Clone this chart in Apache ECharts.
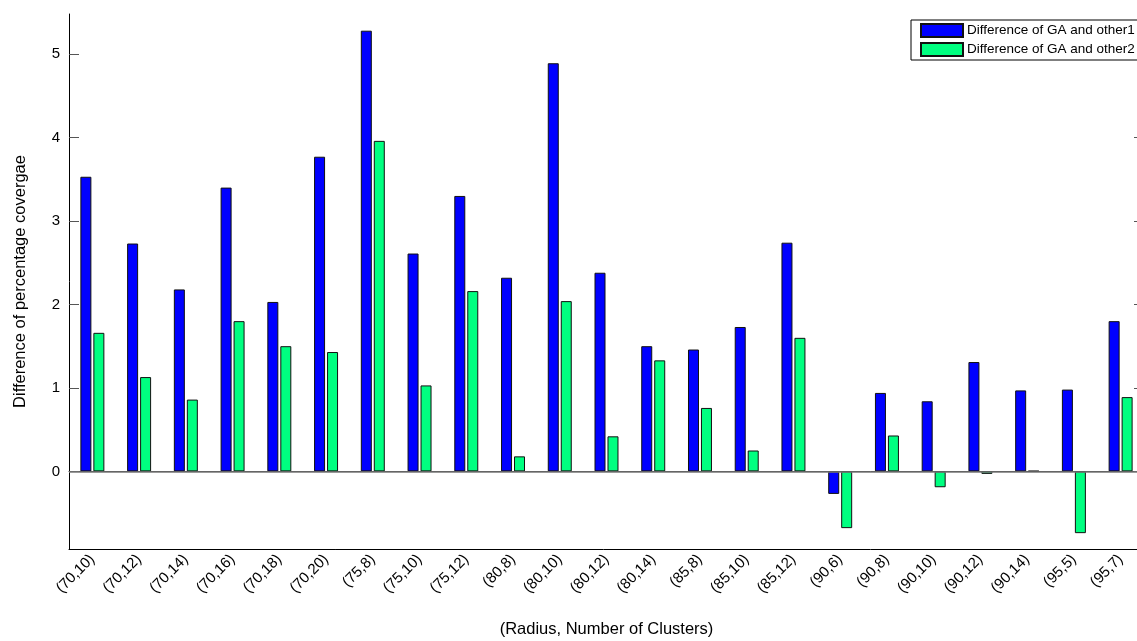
<!DOCTYPE html>
<html>
<head>
<meta charset="utf-8">
<script src="https://cdn.jsdelivr.net/npm/echarts@6/dist/echarts.min.js"></script>
<style>
  html, body { margin: 0; padding: 0; background: #fff; }
  #chart { width: 1137px; height: 641px; }
</style>
</head>
<body>
<div id="chart"></div>
<script>
var categories = ['(70,10)', '(70,12)', '(70,14)', '(70,16)', '(70,18)', '(70,20)', '(75,8)', '(75,10)',
  '(75,12)', '(80,8)', '(80,10)', '(80,12)', '(80,14)', '(85,8)', '(85,10)', '(85,12)', '(90,6)',
  '(90,8)', '(90,10)', '(90,12)', '(90,14)', '(95,5)', '(95,7)'];
var other1 = [3.53, 2.73, 2.18, 3.40, 2.03, 3.77, 5.28, 2.61, 3.30, 2.32, 4.89, 2.38, 1.50, 1.46,
  1.73, 2.74, -0.27, 0.94, 0.84, 1.31, 0.97, 0.98, 1.80];
var other2 = [1.66, 1.13, 0.86, 1.80, 1.50, 1.43, 3.96, 1.03, 2.16, 0.18, 2.04, 0.42, 1.33, 0.76,
  0.25, 1.60, -0.68, 0.43, -0.19, -0.03, 0.005, -0.74, 0.89];
var y_ticks = [0, 1, 2, 3, 4, 5];
var series_names = ['Difference of GA and other1', 'Difference of GA and other2'];
var bar_colors = ['#0000ff', '#00ff80'];

var font = "'Liberation Sans', Arial, sans-serif";
var chart_div = echarts.init(document.getElementById('chart'));

var option = {
  animation: false,
  textStyle: { fontFamily: font },
  grid: { left: 69, top: 14, width: 1075, height: 535, containLabel: false, outerBoundsMode: 'none' },
  legend: {
    orient: 'vertical',
    left: 911,
    top: 20,
    padding: [3, 8, 3, 9],
    itemGap: 4,
    itemWidth: 42,
    itemHeight: 13,
    icon: 'rect',
    backgroundColor: '#fff',
    borderColor: '#000',
    borderWidth: 1,
    textStyle: { fontSize: 13.5, color: '#000', fontFamily: font, padding: [0, 0, 0, -1] },
    data: series_names
  },
  xAxis: [
    {
      type: 'category',
      data: categories,
      boundaryGap: true,
      name: '(Radius, Number of Clusters)',
      nameLocation: 'middle',
      nameGap: 72,
      nameMoveOverlap: false,
      nameTextStyle: { fontSize: 16.5, color: '#000', verticalAlign: 'top' },
      axisLine: { onZero: false, lineStyle: { color: '#000', width: 1 } },
      axisTick: { alignWithLabel: true, inside: true, length: 10, lineStyle: { color: '#555' } },
      axisLabel: { rotate: 45, fontSize: 15, color: '#000', margin: 8, interval: 0 },
      splitLine: { show: false }
    },
    {
      type: 'category',
      data: categories,
      position: 'top',
      boundaryGap: true,
      axisLine: { lineStyle: { color: '#333', width: 1 } },
      axisTick: { alignWithLabel: true, inside: true, length: 10, lineStyle: { color: '#555' } },
      axisLabel: { show: false },
      splitLine: { show: false }
    }
  ],
  yAxis: [
    {
      type: 'value',
      min: -0.93,
      max: 5.48,
      name: 'Difference of percentage covergae',
      nameLocation: 'middle',
      nameGap: 40,
      nameTextStyle: { fontSize: 16.5, color: '#000' },
      axisLine: { show: true, onZero: false, lineStyle: { color: '#000', width: 1 } },
      axisTick: { show: true, inside: true, length: 10, customValues: y_ticks, lineStyle: { color: '#555' } },
      axisLabel: { fontSize: 15, color: '#000', margin: 9, customValues: y_ticks },
      splitLine: { show: false }
    },
    {
      type: 'value',
      min: -0.93,
      max: 5.48,
      position: 'right',
      axisLine: { show: true, lineStyle: { color: '#000', width: 1 } },
      axisTick: { show: true, inside: true, length: 10, customValues: y_ticks, lineStyle: { color: '#555' } },
      axisLabel: { show: false },
      splitLine: { show: false }
    }
  ],
  series: [
    {
      name: series_names[0],
      type: 'bar',
      data: other1,
      barWidth: 11,
      barGap: '18%',
      itemStyle: { color: bar_colors[0], borderColor: '#111', borderWidth: 1 },
      markLine: {
        silent: true,
        symbol: 'none',
        label: { show: false },
        lineStyle: { color: '#777', width: 1.5, type: 'solid' },
        data: [{ yAxis: 0 }]
      }
    },
    {
      name: series_names[1],
      type: 'bar',
      data: other2,
      barWidth: 11,
      barGap: '18%',
      itemStyle: { color: bar_colors[1], borderColor: '#111', borderWidth: 1 }
    }
  ]
};

chart_div.setOption(option);
</script>
</body>
</html>
